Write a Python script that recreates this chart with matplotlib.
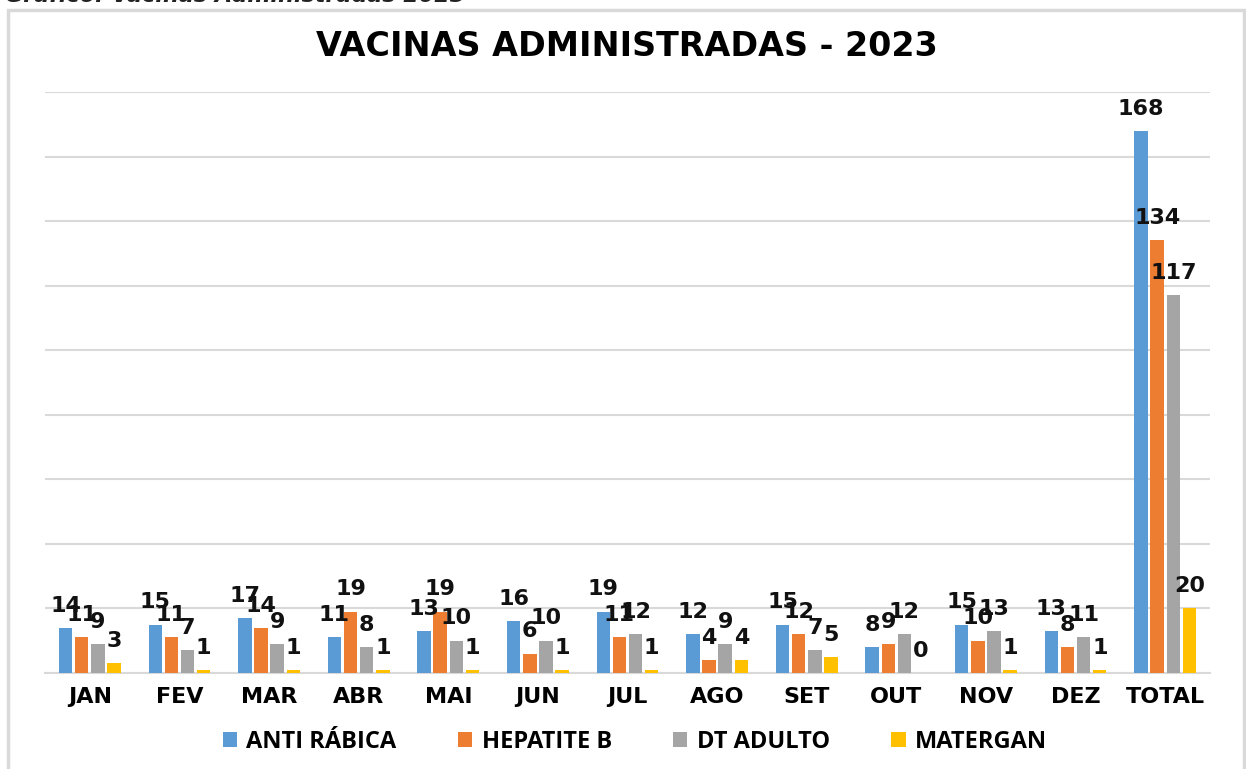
import matplotlib.pyplot as plt
import numpy as np
from matplotlib.patches import Rectangle

# data
meses = ['JAN', 'FEV', 'MAR', 'ABR', 'MAI', 'JUN', 'JUL', 'AGO', 'SET',
         'OUT', 'NOV', 'DEZ', 'TOTAL']
anti_rabica = [14, 15, 17, 11, 13, 16, 19, 12, 15, 8, 15, 13, 168]
hepatite_b = [11, 11, 14, 19, 19, 6, 11, 4, 12, 9, 10, 8, 134]
dt_adulto = [9, 7, 9, 8, 10, 10, 12, 9, 7, 12, 13, 11, 117]
matergan = [3, 1, 1, 1, 1, 1, 1, 4, 5, 0, 1, 1, 20]

series = [('ANTI RÁBICA', anti_rabica, '#5B9BD5'),
          ('HEPATITE B', hepatite_b, '#ED7D31'),
          ('DT ADULTO', dt_adulto, '#A5A5A5'),
          ('MATERGAN', matergan, '#FFC000')]

W, H = 1246, 769
fig = plt.figure(figsize=(W / 100, H / 100), dpi=100)

# chart frame
fig.patches.append(Rectangle((8 / W, -0.01), (1244 - 8) / W, (H - 10) / H + 0.01,
                             transform=fig.transFigure, fill=False,
                             ec='#D9D9D9', lw=2.5))
# caption of the page, cut at the top edge like in the source
fig.text(0.004, 1 - 1.5 / H, 'Gráfico: Vacinas Administradas 2023', ha='left', va='baseline',
         fontsize=16, fontweight='bold', style='italic', color='#222222')

ax = fig.add_axes([45 / W, 1 - 673 / H, (1210 - 45) / W, (673 - 92) / H])
x = np.arange(len(meses))
pitch = 0.18
width = 0.15
for i, (nome, vals, cor) in enumerate(series):
    pos = x + (i - 1.5) * pitch
    ax.bar(pos, vals, width, color=cor, label=nome, zorder=3)
    for px, v in zip(pos, vals):
        ax.annotate(str(v), (px, v), xytext=(0, 16), textcoords='offset points',
                    ha='center', va='center', fontsize=16, fontweight='bold',
                    color='#111111', zorder=5)

ax.set_xlim(-0.5, len(meses) - 0.5)
ax.set_ylim(0, 180)
ax.set_yticks(np.arange(0, 181, 20))
ax.set_yticklabels([])
ax.yaxis.grid(True, color='#D9D9D9', lw=1.5, zorder=0)
ax.tick_params(axis='y', length=0)
ax.tick_params(axis='x', length=0, pad=10)
ax.set_xticks(x)
ax.set_xticklabels(meses, fontsize=16, fontweight='bold')
for s in ['top', 'right', 'left']:
    ax.spines[s].set_visible(False)
ax.spines['bottom'].set_color('#D9D9D9')
ax.spines['bottom'].set_linewidth(1.5)

fig.text(0.503, 1 - 47 / H, 'VACINAS ADMINISTRADAS - 2023', ha='center', va='center',
         fontsize=24, fontweight='bold')

fig.legend(loc='center', bbox_to_anchor=(635 / W, 1 - 742 / H), ncol=4,
           frameon=False, handlelength=0.6, handleheight=0.6, columnspacing=2.6,
           handletextpad=0.4,
           prop={'family': 'Open Sans', 'weight': 'bold', 'size': 17})

fig.savefig('out.png', dpi=100)
